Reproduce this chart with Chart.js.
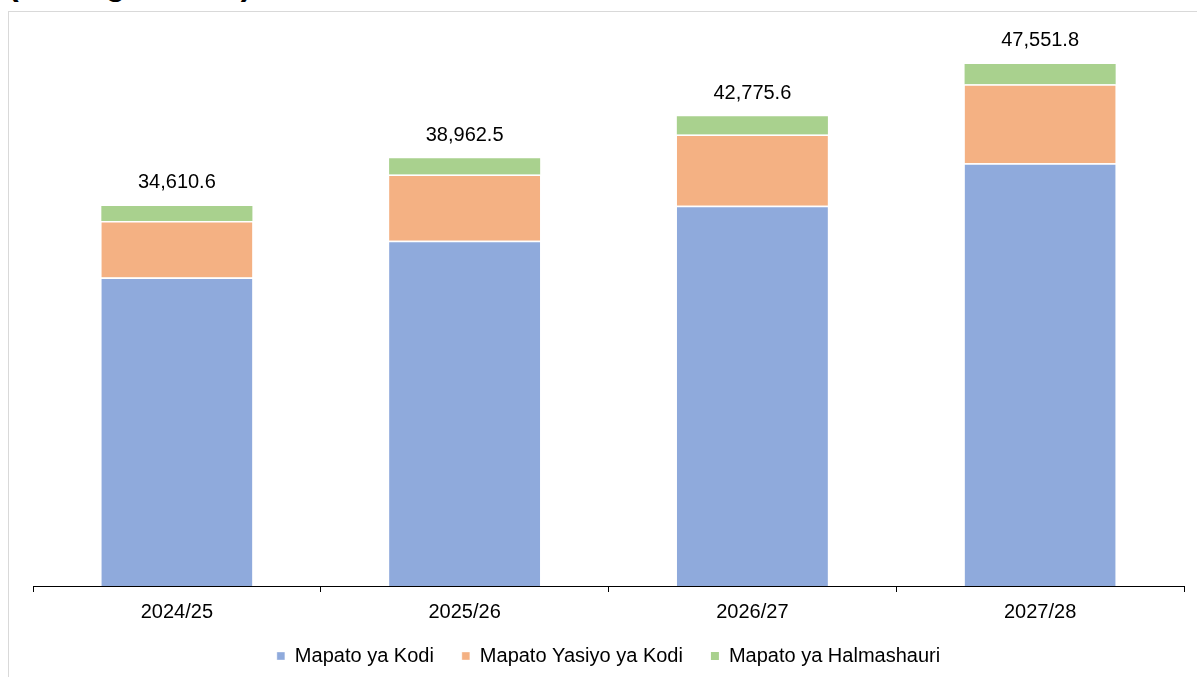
<!DOCTYPE html>
<html>
<head>
<meta charset="utf-8">
<script src="https://cdn.jsdelivr.net/npm/chart.js@4.4.1/dist/chart.umd.min.js"></script>
<style>
    html, body { margin: 0; padding: 0; background: #fff; overflow: hidden; }
    #page { position: relative; width: 1197px; height: 677px; overflow: hidden; }
    #heading { position: absolute; left: 8px; top: -32px; font: bold 32px "Liberation Sans", Arial, sans-serif; line-height: 32px; color: #000; white-space: nowrap; }
    #frame { position: absolute; left: 8px; top: 11px; width: 1400px; height: 900px; border: 1px solid #d9d9d9; }
    #chart-box { position: absolute; left: 0; top: 0; width: 1197px; height: 677px; }
</style>
</head>
<body>
<div id="page">
    <div id="heading">(Shilingi Bilioni)</div>
    <div id="frame"></div>
    <div id="chart-box"><canvas id="result-chart"></canvas></div>
</div>
<script>
const years = ["2024/25", "2025/26", "2026/27", "2027/28"];
const mapatoKodi = [28100, 31450, 34640, 38500];
const mapatoYasiyoKodi = [5150, 6030, 6472, 7200];
const mapatoHalmashauri = [1360.6, 1482.5, 1663.6, 1851.8];
const totals = ["34,610.6", "38,962.5", "42,775.6", "47,551.8"];

const FONT = '"Liberation Sans", Arial, sans-serif';

// jumla juu ya kila nguzo
const totalLabels = {
    id: "totalLabels",
    afterDatasetsDraw(chart) {
        const ctx = chart.ctx;
        const x = chart.scales.x;
        const y = chart.scales.y;
        ctx.save();
        ctx.font = "20px " + FONT;
        ctx.fillStyle = "#000";
        ctx.textAlign = "center";
        ctx.textBaseline = "middle";
        for (let i = 0; i < years.length; i++) {
            let sum = mapatoKodi[i] + mapatoYasiyoKodi[i] + mapatoHalmashauri[i];
            ctx.fillText(totals[i], x.getPixelForValue(i), y.getPixelForValue(sum) - 23);
        }
        ctx.restore();
    }
};

const sep = { top: 1.5, bottom: 0, left: 0, right: 0 };

let ctx = document.getElementById("result-chart").getContext("2d");
let myChart = new Chart(ctx, {
    type: "bar",
    data: {
        labels: years,
        datasets: [
            { label: "Mapato ya Kodi", data: mapatoKodi, backgroundColor: "#8faadc", borderColor: "#fff", borderWidth: sep, borderSkipped: false },
            { label: "Mapato Yasiyo ya Kodi", data: mapatoYasiyoKodi, backgroundColor: "#f4b183", borderColor: "#fff", borderWidth: sep, borderSkipped: false },
            { label: "Mapato ya Halmashauri", data: mapatoHalmashauri, backgroundColor: "#a9d18e", borderColor: "#fff", borderWidth: 0 }
        ]
    },
    options: {
        responsive: true,
        maintainAspectRatio: false,
        animation: false,
        datasets: { bar: { barPercentage: 0.525, categoryPercentage: 1 } },
        layout: { padding: { left: 33, right: 13, top: 37, bottom: 1 } },
        scales: {
            x: {
                stacked: true,
                border: { display: true, color: "#000", width: 1 },
                grid: { display: true, drawOnChartArea: false, drawTicks: true, tickLength: 6, tickColor: "#000", tickWidth: 1, offset: true },
                ticks: { color: "#000", font: { family: FONT, size: 20, lineHeight: 0.1 }, padding: 19 },
                afterFit: function (scale) {
                    scale.height -= 14;
                }
            },
            y: { stacked: true, display: false, min: 0, max: 50000 }
        },
        plugins: {
            legend: {
                position: "bottom",
                labels: { color: "#000", font: { family: FONT, size: 20 }, boxWidth: 8, boxHeight: 8, padding: 28 }
            },
            tooltip: { enabled: false }
        }
    },
    plugins: [totalLabels]
});
</script>
</body>
</html>
